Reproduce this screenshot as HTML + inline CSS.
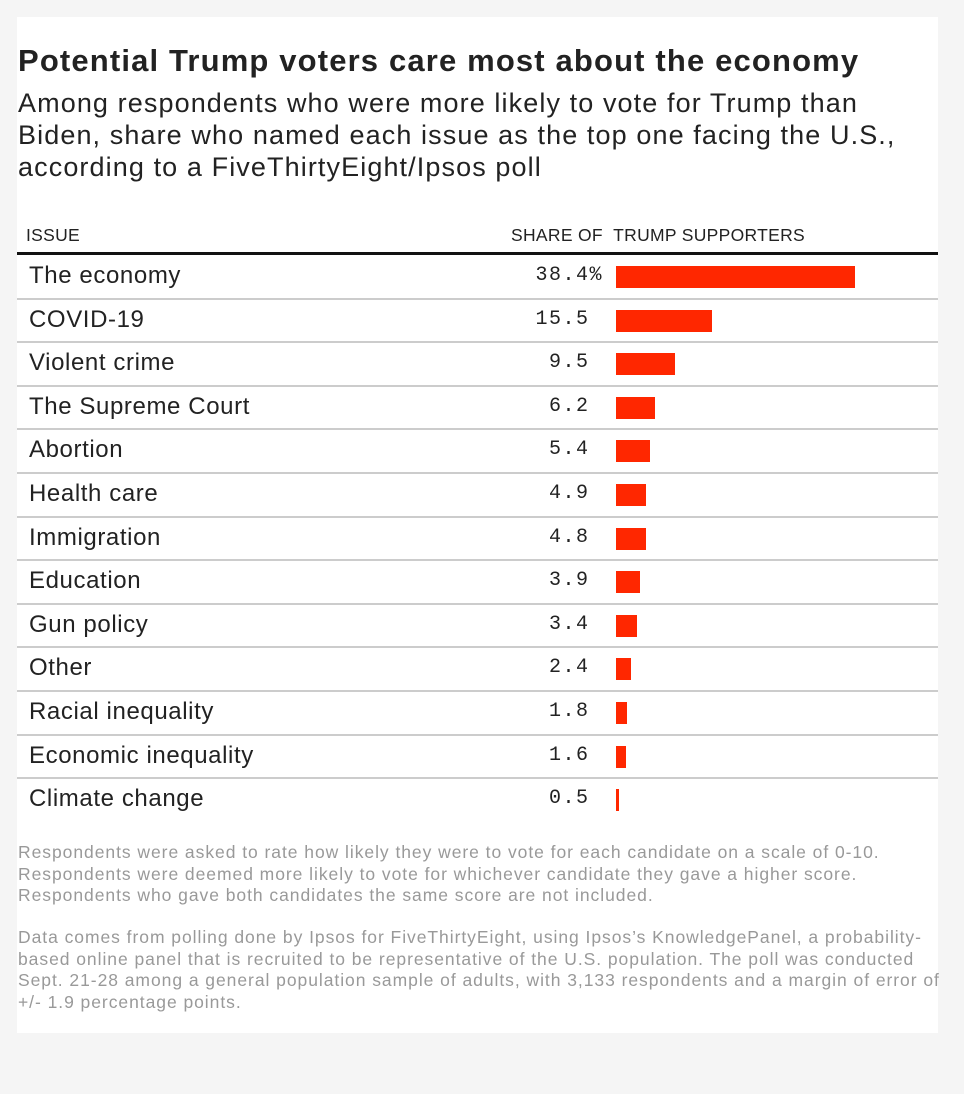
<!DOCTYPE html>
<html><head><meta charset="utf-8"><style>
body{margin:0;background:#f5f5f5;width:964px;height:1094px;position:relative;font-family:"Liberation Sans",sans-serif;overflow:hidden}
#card{position:absolute;left:17px;top:17px;width:921px;height:1016px;background:#fff}
.a{position:absolute;white-space:nowrap}
#title{left:18px;top:43px;font-size:31px;font-weight:bold;color:#222;letter-spacing:1.15px}
#sub{left:18px;top:87px;font-size:27px;line-height:32px;color:#222;letter-spacing:1.1px}
.hdr{top:225px;font-size:17.5px;color:#222;letter-spacing:0.3px}
.lbl{font-size:24px;color:#222;letter-spacing:0.6px}
.val{font-family:"Liberation Mono",monospace;font-size:20px;color:#222;letter-spacing:1.5px;text-align:right;width:120px}
.note{left:18px;font-size:17.5px;color:#999;line-height:21.5px;letter-spacing:0.95px}
</style></head><body>
<div id="card"></div>
<div class="a" id="title">Potential Trump voters care most about the economy</div>
<div class="a" id="sub">Among respondents who were more likely to vote for Trump than<br>Biden, share who named each issue as the top one facing the U.S.,<br>according to a FiveThirtyEight/Ipsos poll</div>
<div class="a hdr" style="left:26px">ISSUE</div>
<div class="a hdr" style="left:511px">SHARE OF &nbsp;TRUMP SUPPORTERS</div>
<div class="a" style="left:17px;top:252px;width:921px;height:3px;background:#111"></div>
<div id="rows"></div>
<div class="a note" style="top:842px">Respondents were asked to rate how likely they were to vote for each candidate on a scale of 0-10.<br>Respondents were deemed more likely to vote for whichever candidate they gave a higher score.<br>Respondents who gave both candidates the same score are not included.</div>
<div class="a note" style="top:927px">Data comes from polling done by Ipsos for FiveThirtyEight, using Ipsos’s KnowledgePanel, a probability-<br>based online panel that is recruited to be representative of the U.S. population. The poll was conducted<br>Sept. 21-28 among a general population sample of adults, with 3,133 respondents and a margin of error of<br>+/- 1.9 percentage points.</div>
<script>
const issues=["The economy","COVID-19","Violent crime","The Supreme Court","Abortion","Health care","Immigration","Education","Gun policy","Other","Racial inequality","Economic inequality","Climate change"];
const shares=[38.4,15.5,9.5,6.2,5.4,4.9,4.8,3.9,3.4,2.4,1.8,1.6,0.5];
const x0=616, xMax=855, vMax=38.4;
const xs=v=>(xMax-x0)*v/vMax;
const top0=255, rowH=43.6;
const c=document.getElementById('rows');
issues.forEach((name,i)=>{
  const y=top0+i*rowH;
  const l=document.createElement('div');l.className='a lbl';
  
  
  l.style.left='29px';l.style.top=(y+7)+'px';l.textContent=name;c.appendChild(l);
  const v=document.createElement('div');v.className='a val';
  
  
  v.style.left='483px';v.style.top=(y+9)+'px';
  v.innerHTML=shares[i].toFixed(1)+(i===0?'%':'<span style="visibility:hidden">%</span>');c.appendChild(v);
  const b=document.createElement('div');b.className='a';
  
  
  b.style.cssText=`left:${x0}px;top:${y+11}px;width:${Math.max(2,xs(shares[i]))}px;height:22px;background:#ff2700`;c.appendChild(b);
  if(i<issues.length-1){const r=document.createElement('div');r.className='a';
  
  
  r.style.cssText=`left:17px;top:${y+rowH-1}px;width:921px;height:2px;background:#ccc`;c.appendChild(r);}
});
</script>
</body></html>
